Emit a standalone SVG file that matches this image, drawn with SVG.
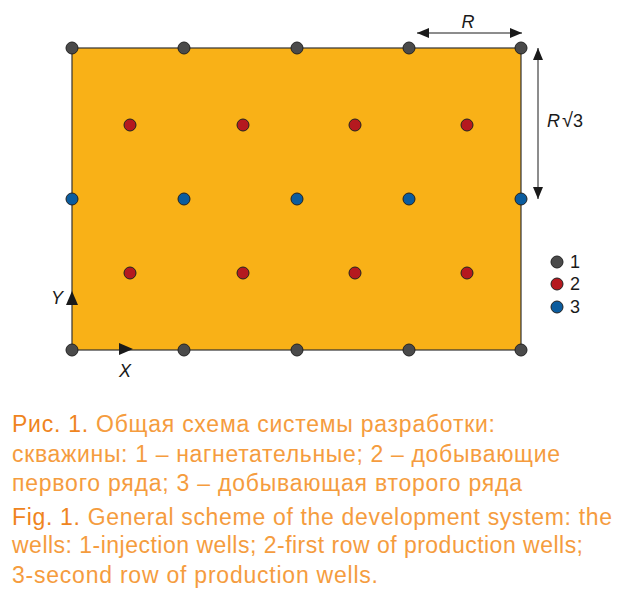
<svg xmlns="http://www.w3.org/2000/svg" width="625" height="603" viewBox="0 0 625 603">
<style>
.w{stroke:#222;stroke-width:1}
.g{fill:#4a4a4a}.r{fill:#b5191f}.b{fill:#0b5c9e}
.lab{font-family:"Liberation Sans",Arial,sans-serif;font-size:18px;fill:#1a1a1a}
.it{font-style:italic}
.cap{font-family:"Liberation Sans",Arial,sans-serif;font-size:23px;fill:#f59c3e}
.capb{fill:#ef8420}
.dim{stroke:#1a1a1a;stroke-width:1;fill:none}
</style>
<defs>
<marker id="ah" viewBox="0 0 12 10" refX="12" refY="5" markerWidth="12" markerHeight="10" markerUnits="userSpaceOnUse" orient="auto-start-reverse">
<path d="M0,0 L12,5 L0,10 z" fill="#1a1a1a"/>
</marker>
</defs>
<g id="field">
<rect x="72" y="48" width="449" height="302" fill="#f9b117" stroke="#333" stroke-width="1.2"/>
</g>
<g id="connectors">
<line class="dim" x1="417" y1="33" x2="522" y2="33" marker-start="url(#ah)" marker-end="url(#ah)"/>
<line class="dim" x1="538" y1="48" x2="538" y2="199" marker-start="url(#ah)" marker-end="url(#ah)"/>
<path d="M66,305 L72,291 L78,305 z" fill="#1a1a1a"/>
<path d="M119,343 L133,349 L119,355 z" fill="#1a1a1a"/>
</g>
<g id="wells1">
<circle class="w g" cx="72" cy="48" r="6"/><circle class="w g" cx="184" cy="48" r="6"/><circle class="w g" cx="297" cy="48" r="6"/><circle class="w g" cx="409" cy="48" r="6"/><circle class="w g" cx="521" cy="48" r="6"/>
<circle class="w g" cx="72" cy="350" r="6"/><circle class="w g" cx="184" cy="350" r="6"/><circle class="w g" cx="297" cy="350" r="6"/><circle class="w g" cx="409" cy="350" r="6"/><circle class="w g" cx="521" cy="350" r="6"/>
</g>
<g id="wells2">
<circle class="w r" cx="130" cy="125" r="6"/><circle class="w r" cx="243" cy="125" r="6"/><circle class="w r" cx="355" cy="125" r="6"/><circle class="w r" cx="467" cy="125" r="6"/>
<circle class="w r" cx="130" cy="273" r="6"/><circle class="w r" cx="243" cy="273" r="6"/><circle class="w r" cx="355" cy="273" r="6"/><circle class="w r" cx="467" cy="273" r="6"/>
</g>
<g id="wells3">
<circle class="w b" cx="72" cy="199" r="6"/><circle class="w b" cx="184" cy="199" r="6"/><circle class="w b" cx="297" cy="199" r="6"/><circle class="w b" cx="409" cy="199" r="6"/><circle class="w b" cx="521" cy="199" r="6"/>
</g>
<g id="labels">
<text class="lab it" x="468" y="28" text-anchor="middle">R</text>
<text class="lab" x="547" y="127"><tspan class="it">R</tspan><tspan dx="2" font-size="20">√</tspan>3</text>
<text class="lab it" x="51" y="304">Y</text>
<text class="lab it" x="119" y="377">X</text>
</g>
<g id="legend">
<circle class="w g" cx="557" cy="262" r="6"/><text class="lab" x="570" y="268" font-size="15">1</text>
<circle class="w r" cx="557" cy="284" r="6"/><text class="lab" x="570" y="290" font-size="15">2</text>
<circle class="w b" cx="557" cy="307" r="6"/><text class="lab" x="570" y="313" font-size="15">3</text>
</g>
<g id="caption">
<text class="cap" x="12" y="432" textLength="483" lengthAdjust="spacing"><tspan class="capb">Рис. 1.</tspan> Общая схема системы разработки:</text>
<text class="cap" x="12" y="462" textLength="548" lengthAdjust="spacing">скважины: 1 – нагнетательные; 2 – добывающие</text>
<text class="cap" x="12" y="491" textLength="510" lengthAdjust="spacing">первого ряда; 3 – добывающая второго ряда</text>
<text class="cap" x="12" y="525" textLength="600" lengthAdjust="spacing"><tspan class="capb">Fig. 1.</tspan>  General scheme of the development system: the</text>
<text class="cap" x="12" y="553" textLength="571" lengthAdjust="spacing">wells: 1-injection wells; 2-first row of production wells;</text>
<text class="cap" x="12" y="583" textLength="366" lengthAdjust="spacing">3-second row of production wells.</text>
</g>
</svg>
